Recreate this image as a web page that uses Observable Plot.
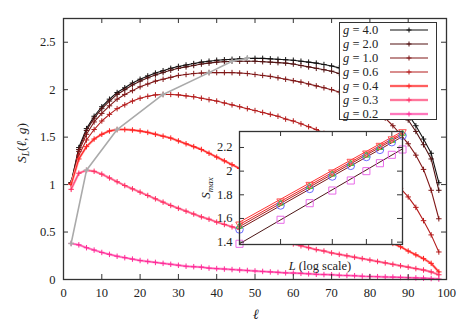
<!DOCTYPE html>
<html><head><meta charset="utf-8">
<script src="https://cdn.jsdelivr.net/npm/d3@7"></script>
<script src="https://cdn.jsdelivr.net/npm/@observablehq/plot@0.6"></script>
<style>
body{margin:0;background:#fff;}
#wrap{position:relative;width:473px;height:327px;font-family:"Liberation Serif","DejaVu Serif",serif;overflow:hidden;}
#wrap > svg{position:absolute;overflow:visible;}
#wrap svg text{font-family:"Liberation Serif","DejaVu Serif",serif !important;}
#legend{position:absolute;left:339px;top:22px;width:98px;height:98px;border:1.3px solid #333;background:#fff;box-sizing:border-box;}
.row{position:absolute;left:3px;width:92px;height:14px;font-size:12.5px;line-height:14px;color:#222;white-space:nowrap;}
.row svg{position:absolute;left:47px;top:0;}
</style>
</head><body>
<div id="wrap"></div>
<script>
// ---------- data ----------
const ell = [2,4,6,8,10,12,14,16,18,20,22,24,26,28,30,32,34,36,38,40,42,44,46,48,50,52,54,56,58,60,62,64,66,68,70,72,74,76,78,80,82,84,86,88,90,92,94,96,98];
const gLabels = ["4.0","2.0","1.0","0.6","0.4","0.3","0.2"];
const s40 = [1.02,1.39,1.59,1.72,1.82,1.90,1.97,2.02,2.07,2.11,2.145,2.175,2.20,2.225,2.245,2.26,2.275,2.29,2.30,2.31,2.315,2.32,2.325,2.33,2.33,2.33,2.325,2.32,2.315,2.31,2.30,2.29,2.28,2.265,2.25,2.23,2.205,2.175,2.14,2.10,2.05,1.99,1.92,1.84,1.74,1.62,1.48,1.33,1.02];
const s20 = [1.02,1.37,1.57,1.70,1.80,1.88,1.95,2.00,2.05,2.09,2.125,2.155,2.18,2.205,2.225,2.24,2.255,2.27,2.28,2.29,2.295,2.30,2.30,2.30,2.30,2.295,2.29,2.285,2.28,2.27,2.255,2.24,2.225,2.21,2.195,2.17,2.145,2.115,2.08,2.04,1.99,1.93,1.86,1.78,1.68,1.56,1.42,1.27,0.94];
const s10 = [1.01,1.35,1.53,1.66,1.75,1.83,1.90,1.95,1.99,2.03,2.06,2.09,2.11,2.13,2.15,2.16,2.17,2.175,2.18,2.18,2.18,2.18,2.175,2.17,2.16,2.15,2.14,2.125,2.11,2.095,2.08,2.06,2.04,2.02,2.00,1.975,1.95,1.92,1.88,1.83,1.77,1.70,1.62,1.53,1.43,1.31,1.16,0.94,0.64];
const s06 = [1.01,1.31,1.47,1.58,1.67,1.74,1.80,1.84,1.88,1.91,1.93,1.945,1.95,1.95,1.945,1.935,1.925,1.91,1.895,1.88,1.86,1.84,1.82,1.80,1.78,1.76,1.74,1.72,1.69,1.67,1.64,1.61,1.58,1.54,1.50,1.46,1.42,1.37,1.32,1.26,1.20,1.13,1.05,0.96,0.87,0.76,0.62,0.47,0.29];
const s04 = [1.00,1.27,1.40,1.48,1.53,1.565,1.58,1.58,1.575,1.565,1.55,1.53,1.51,1.49,1.46,1.43,1.40,1.37,1.33,1.29,1.25,1.21,1.17,1.13,1.09,1.05,1.01,0.97,0.93,0.89,0.85,0.81,0.77,0.73,0.69,0.65,0.61,0.57,0.54,0.50,0.46,0.42,0.38,0.345,0.30,0.26,0.22,0.17,0.08];
const s03 = [0.95,1.12,1.15,1.14,1.11,1.07,1.03,0.99,0.955,0.92,0.885,0.85,0.815,0.78,0.75,0.72,0.69,0.66,0.635,0.605,0.58,0.555,0.53,0.505,0.48,0.46,0.44,0.415,0.395,0.375,0.355,0.335,0.315,0.30,0.28,0.265,0.25,0.235,0.22,0.205,0.19,0.175,0.16,0.145,0.13,0.115,0.10,0.08,0.05];
const s02 = [0.38,0.365,0.335,0.31,0.285,0.265,0.245,0.23,0.215,0.20,0.19,0.18,0.17,0.16,0.15,0.14,0.135,0.13,0.12,0.115,0.11,0.105,0.10,0.095,0.09,0.085,0.08,0.075,0.07,0.068,0.065,0.06,0.055,0.052,0.05,0.045,0.042,0.04,0.035,0.032,0.03,0.027,0.025,0.022,0.02,0.017,0.014,0.01,0.005];
const seriesValues = [s40, s20, s10, s06, s04, s03, s02];
const xTicks = [0,10,20,30,40,50,60,70,80,90,100];
const yTicks = [0,0.5,1,1.5,2,2.5];

// inset: S_max versus L
const Ls = [20,30,40,50,60,70,80,90,100];
const smaxTri = [1.55,1.745,1.885,1.99,2.08,2.15,2.215,2.27,2.33];
const smaxGreen = [1.535,1.73,1.87,1.975,2.065,2.135,2.20,2.26,2.32];
const smaxCirc = [1.507,1.71,1.85,1.955,2.045,2.12,2.18,2.245,2.30];
const smaxSq = [1.386,1.589,1.729,1.836,1.921,2.0,2.067,2.138,2.183];
const fitEnds = [20,100];
const fitA = [1.569,2.337];
const fitB = [1.549,2.322];
const fitC = [1.531,2.309];
const fitD = [1.512,2.292];
const fitE = [1.386,2.188];
const insetXTicks = [30,50,70,90];
const insetYTicks = [1.4,1.6,1.8,2,2.2];

// ---------- styles ----------
const lineColors = ["#111111","#521212","#801818","#b41c1c","#ff2424","#ff4d7a","#ff4aa8"];
const haloColors = [null,null,null,null,"#ff9a9a","#ffa0bd","#ffa6d2"];
const markColors = ["#111111","#521212","#801818","#b41c1c","#ff2424","#ff2d62","#ff2a98"];
const FONT = "Liberation Serif, DejaVu Serif, serif";
const W = 473, H = 327, ML = 63, MR = 27, MT = 18, MB = 48;
const innerW = W - ML - MR, innerH = H - MT - MB;
const TK = 5;
const PR = 1.9;

const wrap = document.getElementById("wrap");

// ---------- main plot ----------
const marks = [];
seriesValues.forEach((vals, i) => {
  const rows = ell.map((l, j) => ({l, s: vals[j]}));
  if (haloColors[i]) marks.push(Plot.line(rows, {x: "l", y: "s", stroke: haloColors[i], strokeWidth: 2.4}));
  marks.push(Plot.line(rows, {x: "l", y: "s", stroke: lineColors[i], strokeWidth: 1.1}));
  marks.push(Plot.dot(rows, {x: "l", y: "s", symbol: "plus", r: PR, stroke: markColors[i], strokeWidth: 1}));
});
const peaks = seriesValues.map(vals => { const j = d3.maxIndex(vals); return {l: ell[j], s: vals[j]}; }).reverse();
marks.push(Plot.line(peaks, {x: "l", y: "s", stroke: "#aaaaaa", strokeWidth: 1.6}));
marks.push(Plot.dot(peaks, {x: "l", y: "s", symbol: "plus", r: PR, stroke: "#aaaaaa"}));

const main = Plot.plot({
  width: W, height: H, marginLeft: ML, marginRight: MR, marginTop: MT, marginBottom: MB,
  style: {fontFamily: FONT, fontSize: "12.5px", color: "#222", background: "white", overflow: "visible"},
  x: {domain: [0, 100]},
  y: {domain: [0, 2.75]},
  marks: [
    ...marks,
    Plot.ruleX(xTicks, {x: d => d, insetTop: innerH - TK, stroke: "#333"}),
    Plot.ruleX(xTicks, {x: d => d, insetBottom: innerH - TK, stroke: "#333"}),
    Plot.ruleY(yTicks, {y: d => d, insetRight: innerW - TK, stroke: "#333"}),
    Plot.ruleY(yTicks, {y: d => d, insetLeft: innerW - TK, stroke: "#333"}),
    Plot.frame({stroke: "#333", strokeWidth: 1.3}),
    Plot.axisX(xTicks, {tickSize: 0, tickPadding: 9, label: null, tickFormat: d3.format("d"), fontFamily: FONT}),
    Plot.axisY(yTicks, {tickSize: 0, tickPadding: 8, label: null, tickFormat: d => String(d), fontFamily: FONT})
  ]
});
main.style.left = "0px"; main.style.top = "0px";
wrap.appendChild(main);

const msel = d3.select(main);
msel.append("text").attr("x", 256).attr("y", 319).attr("text-anchor", "middle")
  .attr("font-size", 14).attr("font-style", "italic").attr("fill", "#222").text("ℓ");
const yl = msel.append("text").attr("transform", "translate(26,143) rotate(-90)").attr("text-anchor", "middle")
  .attr("font-size", 13.5).attr("fill", "#222");
yl.append("tspan").attr("font-style", "italic").text("S");
yl.append("tspan").attr("font-style", "italic").attr("font-size", 9.5).attr("dy", 3).text("L");
yl.append("tspan").attr("dy", -3).text("(");
yl.append("tspan").attr("font-style", "italic").text("ℓ");
yl.append("tspan").text(", ");
yl.append("tspan").attr("font-style", "italic").text("g");
yl.append("tspan").text(")");

// ---------- legend ----------
const legend = document.createElement("div");
legend.id = "legend";
gLabels.forEach((g, i) => {
  const row = document.createElement("div");
  row.className = "row";
  row.style.top = (i * 14) + "px";
  row.innerHTML = `<i>g</i> = ${g}`;
  const s = d3.create("svg").attr("width", 40).attr("height", 14);
  if (haloColors[i]) s.append("line").attr("x1", 0).attr("x2", 38).attr("y1", 7).attr("y2", 7).attr("stroke", haloColors[i]).attr("stroke-width", 2.4);
  s.append("line").attr("x1", 0).attr("x2", 38).attr("y1", 7).attr("y2", 7).attr("stroke", lineColors[i]).attr("stroke-width", 1.1);
  s.append("path").attr("d", "M16.5,7h5M19,4.5v5").attr("stroke", markColors[i]).attr("stroke-width", 1);
  row.appendChild(s.node());
  legend.appendChild(row);
});
wrap.appendChild(legend);

// ---------- inset ----------
const IL = 195, IT = 125, IW = 215, IH = 150;
const iML = 44, iMT = 6, iMR = 8, iMB = 31;
const iInW = IW - iML - iMR, iInH = IH - iMT - iMB;
const invTri = {draw(ctx, size) { const r = Math.sqrt(size / Math.PI) * 1.1; ctx.moveTo(0, r); ctx.lineTo(r * 0.95, -r * 0.6); ctx.lineTo(-r * 0.95, -r * 0.6); ctx.closePath(); }};
const upTri = {draw(ctx, size) { const r = Math.sqrt(size / Math.PI) * 1.1; ctx.moveTo(0, -r); ctx.lineTo(r * 0.95, r * 0.6); ctx.lineTo(-r * 0.95, r * 0.6); ctx.closePath(); }};
const pts = arr => Ls.map((L, j) => ({L, v: arr[j]}));
const fitRows = arr => fitEnds.map((L, j) => ({L, v: arr[j]}));
const fits = [[fitE, "#4a1515"], [fitD, "#7a1818"], [fitC, "#b01c1c"], [fitB, "#e82020"], [fitA, "#ff3030"]];

const inset = Plot.plot({
  width: IW, height: IH, marginLeft: iML, marginRight: iMR, marginTop: iMT, marginBottom: iMB,
  style: {fontFamily: FONT, fontSize: "12.5px", color: "#222", background: "transparent", overflow: "visible"},
  x: {type: "log", domain: [20, 100]},
  y: {domain: [1.38, 2.335]},
  marks: [
    Plot.frame({fill: "white", stroke: null}),
    ...fits.map(([f, c]) => Plot.line(fitRows(f), {x: "L", y: "v", stroke: c, strokeWidth: 1, clip: true})),
    Plot.dot(pts(smaxSq), {x: "L", y: "v", symbol: "square", r: 4, stroke: "#e86ae8", strokeWidth: 1}),
    Plot.dot(pts(smaxCirc), {x: "L", y: "v", symbol: "circle", r: 3.8, stroke: "#6a6aff", strokeWidth: 1}),
    Plot.dot(pts(smaxGreen), {x: "L", y: "v", symbol: upTri, r: 3, stroke: "#3fc43f", strokeWidth: 1}),
    Plot.dot(pts(smaxTri), {x: "L", y: "v", symbol: invTri, r: 3.6, stroke: "#ff5050", strokeWidth: 1}),
    Plot.ruleX(insetXTicks, {x: d => d, insetTop: iInH - TK, stroke: "#333"}),
    Plot.ruleX(insetXTicks, {x: d => d, insetBottom: iInH - TK, stroke: "#333"}),
    Plot.ruleY(insetYTicks, {y: d => d, insetRight: iInW - TK, stroke: "#333"}),
    Plot.ruleY(insetYTicks, {y: d => d, insetLeft: iInW - TK, stroke: "#333"}),
    Plot.frame({stroke: "#333", strokeWidth: 1.3}),
    Plot.axisX(insetXTicks, {tickSize: 0, tickPadding: 5, label: null, tickFormat: d3.format("d"), fontFamily: FONT}),
    Plot.axisY(insetYTicks, {tickSize: 0, tickPadding: 7, label: null, tickFormat: d => String(d), fontFamily: FONT})
  ]
});
inset.style.left = IL + "px"; inset.style.top = IT + "px";
wrap.appendChild(inset);
const isel = d3.select(inset);
const ixl = isel.append("text").attr("x", 320 - IL).attr("y", 270 - IT).attr("text-anchor", "middle")
  .attr("font-size", 12.5).attr("fill", "#222");
ixl.append("tspan").attr("font-style", "italic").text("L");
ixl.append("tspan").text(" (log scale)");
const iyl = isel.append("text").attr("transform", `translate(${210 - IL},${188 - IT}) rotate(-90)`).attr("text-anchor", "middle")
  .attr("font-size", 13).attr("fill", "#222");
iyl.append("tspan").attr("font-style", "italic").text("S");
iyl.append("tspan").attr("font-style", "italic").attr("font-size", 9).attr("dy", 3).text("max");
</script>
</body></html>
